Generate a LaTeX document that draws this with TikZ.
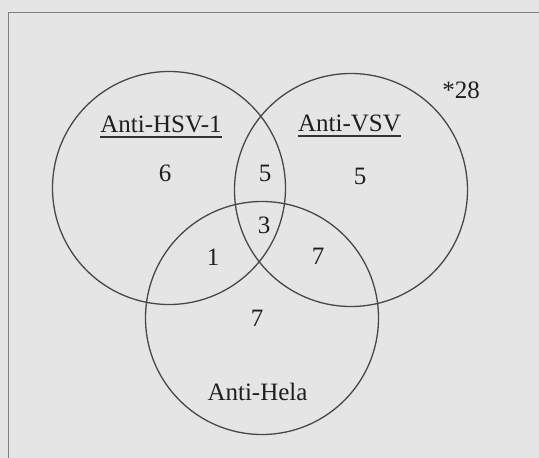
\documentclass[tikz,border=0pt]{standalone}
\usepackage{fontspec}
\setmainfont{Liberation Serif}
\begin{document}
\begin{tikzpicture}[x=1pt,y=-1pt,
  venn/.style={draw=black!72, line width=1.3pt},
  frameline/.style={draw=black!50, line width=1pt},
  lbl/.style={inner sep=0pt, text=black!88, font=\fontsize{25}{29}\selectfont},
  num/.style={lbl, anchor=center},
  uline/.style={draw=black!80, line width=1.2pt}]
\useasboundingbox (0,0) rectangle (539,458);
\fill[black!10] (0,0) rectangle (539,458);
% frame (top and left edges visible)
\coordinate (fTR) at (539,12);
\coordinate (fTL) at (8,12);
\coordinate (fBL) at (8,458);
\draw[frameline] (fTR) -- (fTL) -- (fBL);
% circles
\node[venn, circle, minimum size=233pt, inner sep=0pt] (hsv) at (169,188) {};
\node[venn, circle, minimum size=233pt, inner sep=0pt] (vsv) at (351,190) {};
\node[venn, circle, minimum size=233pt, inner sep=0pt] (hela) at (262,318) {};
% labels
\node[lbl, anchor=base] (lhsv) at (161,132) {Anti-HSV-1};
\node[lbl, anchor=base] (lvsv) at (349.5,131) {Anti-VSV};
\draw[uline] ([yshift=-5pt]lhsv.base west) -- ([yshift=-5pt]lhsv.base east);
\draw[uline] ([yshift=-5pt]lvsv.base west) -- ([yshift=-5pt]lvsv.base east);
\node[lbl, anchor=base] (lhela) at (257.5,400) {Anti-Hela};
\node[lbl, anchor=base] (n28) at (461,98) {*28};
% counts
\node[num] (n6) at (165,173) {6};
\node[num] (n5a) at (265,173) {5};
\node[num] (n5b) at (360,176) {5};
\node[num] (n3) at (264,225) {3};
\node[num] (n1) at (213,257) {1};
\node[num] (n7a) at (318,256) {7};
\node[num] (n7b) at (257,318) {7};
\end{tikzpicture}
\end{document}
